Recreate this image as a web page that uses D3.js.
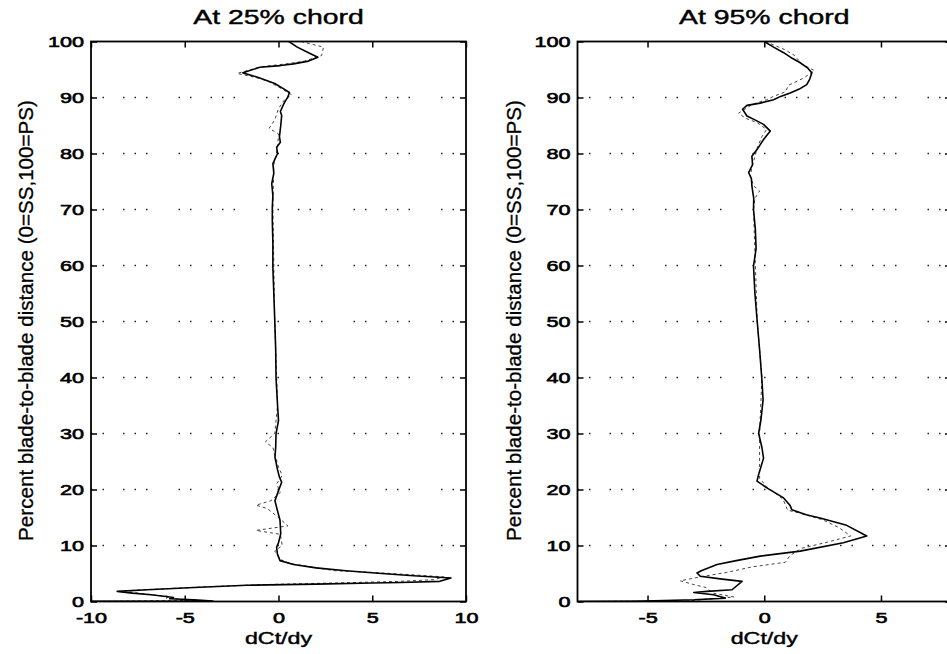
<!DOCTYPE html>
<html><head><meta charset="utf-8">
<script src="https://cdn.jsdelivr.net/npm/d3@7"></script>
<style>
body{margin:0;background:#fff}
svg{display:block}
text{font-family:"Liberation Sans",Arial,Helvetica,sans-serif;fill:#000}
</style>
</head><body><svg id="c" width="947" height="654"></svg>
<script>
// ---------- data ----------
const panelTitles = ["At 25% chord", "At 95% chord"];
const xLabel = "dCt/dy";
const yLabel = "Percent blade-to-blade distance (0=SS,100=PS)";
const yTicks = [0, 10, 20, 30, 40, 50, 60, 70, 80, 90, 100];
const gridRows = [10, 20, 30, 40, 50, 60, 70, 80, 90];
const leftXDomain = [-10, 10];
const rightXDomain = [-8, 8];
const leftXTicks = [-10, -5, 0, 5, 10];
const rightXTicks = [-5, 0, 5];

// 25% chord: solid curve (percent, dCt/dy)
const leftSolidPct = [100,99,98,97.2,96.5,96,95.7,95.4,94.4,93.5,92.5,91.5,90.9,90.1,89,87.5,86.8,85,83,82,81.1,80,78.2,76.5,74.6,72.5,70.4,68,64,59.7,55,50.2,45,39.8,35,32.3,30,27.5,25.8,23.5,22.2,21.3,19.8,18,16.8,14.5,12.1,10.5,9.7,8.5,7.3,6.6,6.0,5.5,5.0,4.6,4.2,3.6,3.4,3.3,3.1,2.9,2.5,2.1,1.8,1.5,1.2,0.9,0.7,0.5,0.3,0.1,0.0];
const leftSolidX   = [0.55,1.0,1.6,2.1,1.6,0.8,0.1,-1.0,-1.9,-1.0,-0.2,0.3,0.58,0.5,0.3,0.1,0.17,0.12,0.05,0.1,-0.1,-0.05,-0.3,-0.25,-0.36,-0.3,-0.33,-0.33,-0.3,-0.3,-0.25,-0.2,-0.15,-0.13,-0.05,0,-0.13,-0.15,-0.19,-0.05,0.05,0.17,0,-0.19,-0.1,0.08,0.12,0.0,-0.1,-0.06,0.08,0.8,2.0,3.6,5.5,7.2,9.2,8.6,6.5,5.0,2.0,-1.7,-4.5,-7.0,-8.6,-7.8,-6.8,-6.0,-5.6,-5.8,-4.5,-3.5,-12];
// 25% chord: dashed curve
const leftDashPct = [100,99,97.5,96.5,96,95.5,94.3,93.4,92.8,91.5,90.5,89.5,88,86,84.5,83.5,81,78,70,50,35,30,28.5,27.5,24,22.5,21,19.5,18,17.2,16.6,15,13.5,12.7,12,10,9,7.5,6.8,6.3,5.5,5.2,4.8,4.4,3.9,3.6,3.4,3.2,3.0,2.6,2.2,1.9,1.5,1.1,0.9,0.6,0.4,0.2,0];
const leftDashX   = [1.2,2.4,2.3,1.4,0.4,-0.9,-2.2,-1.0,-0.5,0.2,0.7,0.3,0.0,-0.2,-0.5,0.0,-0.05,-0.25,-0.3,-0.2,-0.05,-0.2,-0.7,-0.3,0.0,0.2,-0.1,0.1,-0.4,-1.2,-0.6,0.0,0.5,-1.2,0.1,0.2,-0.2,0.1,0.6,1.5,3.0,5.0,7.0,8.8,8.3,6.5,4.2,1.5,-1.0,-4.0,-6.5,-8.3,-7.5,-6.5,-5.8,-6.0,-5.2,-4.5,-9.5];

// 95% chord: solid curve
const rightSolidPct = [100,99,98,97,96.2,95.3,94.4,93.3,92.3,91.5,90.8,90.2,89.6,89,88.6,87.9,86.7,86,85.2,84,82.5,80.7,79.5,78,76.6,75.5,74.2,72,70,66.4,63,59.9,55,50.4,45,39.6,36,32.5,30,27.5,25.6,22.7,21.5,20.3,18.5,17.2,16.4,15.5,14.9,13.6,11.7,10.5,9.0,8.1,7.3,6.6,5.5,5.1,4.5,4.0,3.6,2.1,1.8,1.6,1.2,0.6,0.3,0.05,0];
const rightSolidX   = [0.0,0.4,0.83,1.2,1.54,1.85,2.04,1.95,1.82,1.5,1.11,0.7,0.4,-0.17,-0.74,-0.93,-0.74,-0.4,-0.03,0.26,-0.03,-0.31,-0.53,-0.5,-0.67,-0.55,-0.53,-0.45,-0.46,-0.38,-0.35,-0.46,-0.4,-0.31,-0.2,-0.1,-0.05,-0.14,-0.24,-0.1,-0.03,-0.24,-0.31,0.11,0.83,1.1,1.18,1.8,2.39,3.53,4.39,3.39,1.54,-0.17,-1.2,-2.02,-2.7,-2.88,-2.74,-1.8,-0.95,-1.38,-2.45,-3.02,-2.17,-1.67,-3.0,-5.6,-8.5];
// 95% chord: dashed curve
const rightDashPct = [100,98.5,97.5,96,94.8,93.5,92.2,91,90.2,89.6,88.8,87.2,86.3,85.5,84.3,83,81,78,76,74.2,73.3,72,70,50,40,30,22,20.5,18.3,16.3,15.8,14.6,13.2,11.7,10.6,9.5,8.2,7.0,6.2,5.2,4.5,3.7,3.0,2.5,1.5,0.8,0.1,0];
const rightDashX   = [0.05,0.9,1.3,1.6,2.15,1.7,1.05,0.9,0.4,0.1,-0.5,-1.1,-0.8,-0.3,0.1,-0.1,-0.3,-0.5,-0.6,-0.45,-0.2,-0.4,-0.46,-0.3,-0.1,-0.2,-0.2,0.1,0.8,1.0,1.5,2.5,3.2,3.7,2.7,1.6,1.1,0.9,-0.5,-1.6,-2.6,-3.6,-3.0,-2.5,-2.2,-1.3,-3.3,-7.5];

// ---------- drawing ----------
const svg = d3.select("#c");
const plotTop = 41.5, plotBottom = 601.5;

function stretch(sel, k) {
  sel.each(function () {
    const w = this.getComputedTextLength();
    d3.select(this).attr("textLength", w * k).attr("lengthAdjust", "spacingAndGlyphs");
  });
}
function heavy(sel, w) { sel.attr("stroke", "#000").attr("stroke-width", w).attr("paint-order", "fill"); }
function zip(p, x) { return p.map((v, i) => ({ y: v, x: x[i] })); }

const panels = [
  { id: "L", left: 91, right: 466, domain: leftXDomain, xt: leftXTicks, title: panelTitles[0],
    solid: zip(leftSolidPct, leftSolidX), dash: zip(leftDashPct, leftDashX), ylx: 33 },
  { id: "R", left: 577.5, right: 951, domain: rightXDomain, xt: rightXTicks, title: panelTitles[1],
    solid: zip(rightSolidPct, rightSolidX), dash: zip(rightDashPct, rightDashX), ylx: 521 }
];

const defs = svg.append("defs");

panels.forEach(p => {
  const x = d3.scaleLinear().domain(p.domain).range([p.left, p.right]);
  const y = d3.scaleLinear().domain([0, 100]).range([plotBottom, plotTop]);
  const g = svg.append("g");

  defs.append("clipPath").attr("id", "clip" + p.id)
    .append("rect").attr("x", p.left).attr("y", plotTop).attr("width", p.right - p.left).attr("height", plotBottom - plotTop);

  // dotted horizontal grid
  g.append("g").selectAll("line").data(gridRows).join("line")
    .attr("x1", p.left).attr("x2", p.right)
    .attr("y1", d => y(d)).attr("y2", d => y(d))
    .attr("stroke", "#222").attr("stroke-width", 1.5)
    .attr("stroke-dasharray", "1.5,10,1.5,19,1.5,10,1.5,10,1.5,31");

  const line = d3.line().x(d => x(d.x)).y(d => y(d.y));
  const cg = g.append("g").attr("clip-path", `url(#clip${p.id})`);
  cg.append("path").datum(p.dash).attr("d", line)
    .attr("fill", "none").attr("stroke", "#444").attr("stroke-width", 1)
    .attr("stroke-dasharray", "3,3");
  cg.append("path").datum(p.solid).attr("d", line)
    .attr("fill", "none").attr("stroke", "#000").attr("stroke-width", 1.6)
    .attr("stroke-linejoin", "round");

  // axes with inward ticks
  const fs = "15px";
  const ax = g.append("g").attr("transform", `translate(${p.left},0)`)
    .call(d3.axisLeft(y).tickValues(yTicks).tickFormat(d3.format("d")).tickSize(-6).tickSizeOuter(0).tickPadding(7));
  ax.select(".domain").remove();
  ax.selectAll("line").attr("stroke", "#000").attr("stroke-width", 1.5);
  ax.selectAll("text").attr("font-size", fs).attr("dy", "0.36em");
  stretch(ax.selectAll("text"), 1.44);
  heavy(ax.selectAll("text"), 0.6);

  const axr = g.append("g").attr("transform", `translate(${p.right},0)`)
    .call(d3.axisRight(y).tickValues(yTicks).tickFormat("").tickSize(-6).tickSizeOuter(0));
  axr.select(".domain").remove();
  axr.selectAll("line").attr("stroke", "#000").attr("stroke-width", 1.5);

  const axb = g.append("g").attr("transform", `translate(0,${plotBottom})`)
    .call(d3.axisBottom(x).tickValues(p.xt).tickFormat(d => d < 0 ? "-" + Math.abs(d) : String(d)).tickSize(-6).tickSizeOuter(0).tickPadding(11));
  axb.select(".domain").remove();
  axb.selectAll("line").attr("stroke", "#000").attr("stroke-width", 1.5);
  axb.selectAll("text").attr("font-size", fs);
  stretch(axb.selectAll("text"), 1.44);
  heavy(axb.selectAll("text"), 0.6);

  const axt = g.append("g").attr("transform", `translate(0,${plotTop})`)
    .call(d3.axisTop(x).tickValues(p.xt).tickFormat("").tickSize(-6).tickSizeOuter(0));
  axt.select(".domain").remove();
  axt.selectAll("line").attr("stroke", "#000").attr("stroke-width", 1.5);

  // frame
  g.append("rect").attr("x", p.left).attr("y", plotTop).attr("width", p.right - p.left).attr("height", plotBottom - plotTop)
    .attr("fill", "none").attr("stroke", "#000").attr("stroke-width", 1.8);

  // labels
  const cx = x(0);
  const t = g.append("text").attr("x", cx).attr("y", 24).attr("text-anchor", "middle")
    .attr("font-size", "20px").text(p.title);
  stretch(t, 1.42);
  heavy(t, 0.4);
  const xl = g.append("text").attr("x", cx).attr("y", 644).attr("text-anchor", "middle")
    .attr("font-size", "16px").text(xLabel);
  stretch(xl, 1.45);
  heavy(xl, 0.4);
  const yl = g.append("text").attr("transform", `translate(${p.ylx},${(plotTop + plotBottom) / 2 - 1}) rotate(-90)`)
    .attr("text-anchor", "middle").attr("font-size", "20.6px").text(yLabel);
  heavy(yl, 0.3);
});
</script>
</body></html>
